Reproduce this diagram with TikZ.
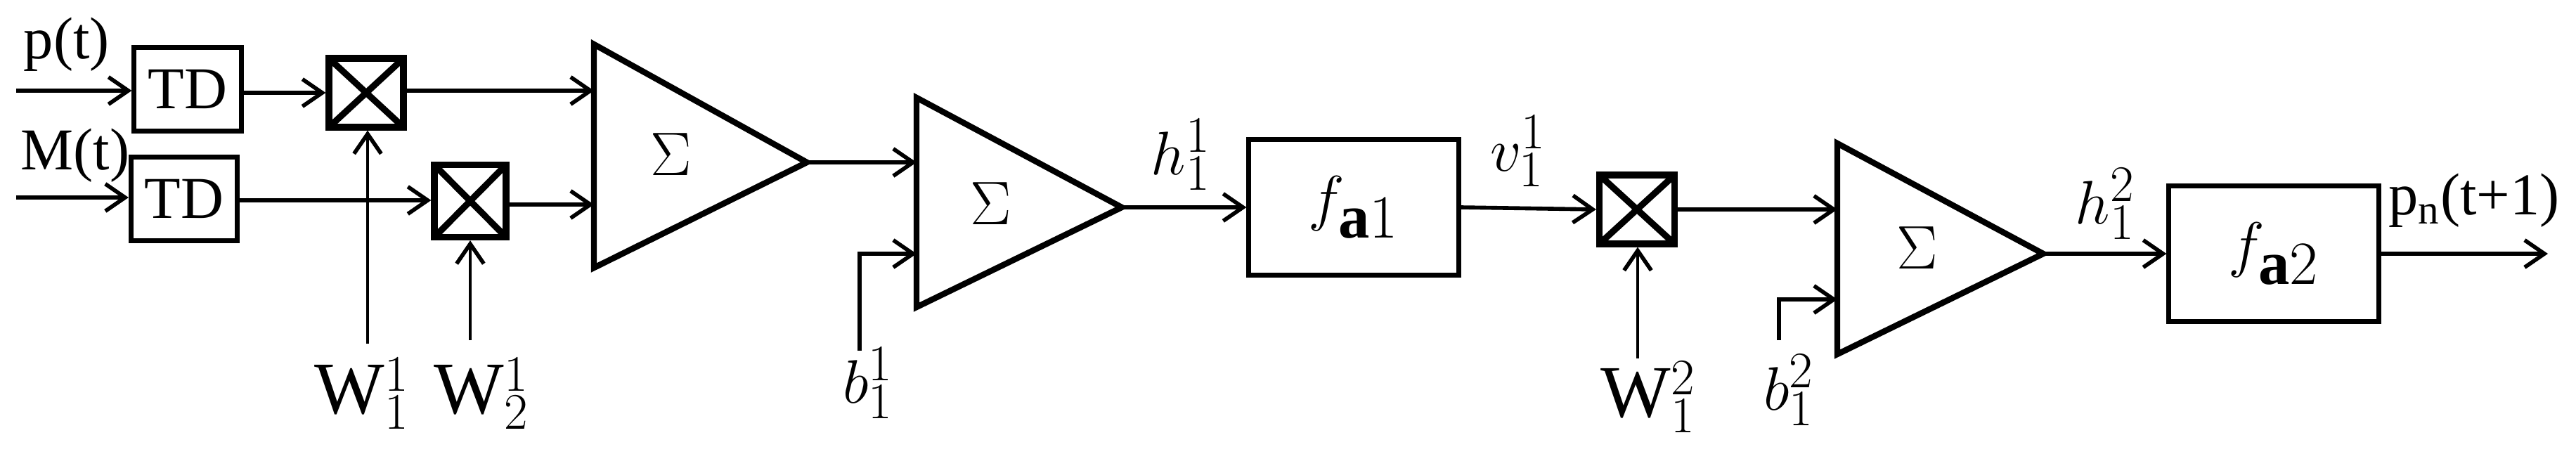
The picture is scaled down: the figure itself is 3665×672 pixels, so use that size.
\documentclass[tikz,border=0pt]{standalone}
\usepackage{fontspec}
\setmainfont{Liberation Serif}
\usetikzlibrary{arrows.meta}
\begin{document}
\begin{tikzpicture}[x=0.01cm,y=-0.01cm,line width=1.6pt,
  arr/.style={-{Straight Barb[length=8pt,width=11pt,line width=1.6pt]}},
  blk/.style={draw,line width=2pt,inner sep=0pt},
  lbl/.style={inner sep=0pt,font=\fontsize{24}{28}\selectfont},
  big/.style={inner sep=0pt,font=\fontsize{30}{30}\selectfont},
  sig/.style={inner sep=0pt,font=\fontsize{40}{40}\selectfont},
  mult/.style={draw,line width=2.6pt,inner sep=0pt,path picture={\draw[line width=2.6pt](path picture bounding box.south west)--(path picture bounding box.north east)(path picture bounding box.north west)--(path picture bounding box.south east);}}]
\useasboundingbox (0,0) rectangle (3665,672);
% blocks
\node[blk,minimum width=1.52cm,minimum height=1.18cm,lbl] (td1) at (267,127) {TD};
\node[blk,minimum width=1.51cm,minimum height=1.18cm,lbl] (td2) at (262,283) {TD};
\node[mult,minimum width=1.06cm,minimum height=0.98cm] (m1) at (521,132) {};
\node[mult,minimum width=1.02cm,minimum height=1.03cm] (m2) at (669,286) {};
\node[mult,minimum width=1.07cm,minimum height=0.98cm] (m3) at (2329,298) {};
\node[blk,minimum width=2.98cm,minimum height=1.93cm] (f1) at (1926,295) {\fontsize{36}{40}\selectfont$f_{\mathbf{a}1}$};
\node[blk,minimum width=2.98cm,minimum height=1.93cm] (f2) at (3235,361) {\fontsize{36}{40}\selectfont$f_{\mathbf{a}2}$};
% summers
\draw[line width=2.4pt] (845,63) coordinate (s1t) -- (1148,231) coordinate (s1o) -- (845,381) coordinate (s1b) -- cycle;
\draw[line width=2.4pt] (1304,139) coordinate (s2t) -- (1596,295) coordinate (s2o) -- (1304,437) coordinate (s2b) -- cycle;
\draw[line width=2.4pt] (2614,204) coordinate (s3t) -- (2907,361) coordinate (s3o) -- (2614,504) coordinate (s3b) -- cycle;
\node[sig] (sg1) at (955,220) {$\Sigma$};
\node[sig] (sg2) at (1410,290) {$\Sigma$};
\node[sig] (sg3) at (2728,353) {$\Sigma$};
% coordinates
\coordinate (pin) at (23,129);
\coordinate (min) at (23,281);
\coordinate (s1a) at (845,129);
\coordinate (s1c) at (845,291);
\coordinate (s2a) at (1304,231);
\coordinate (s2c) at (1304,361);
\coordinate (b1s) at (1223,499);
\coordinate (s3a) at (2614,298);
\coordinate (s3c) at (2614,426);
\coordinate (b2s) at (2531,484);
\coordinate (w1s) at (523,489);
\coordinate (w2s) at (669,484);
\coordinate (w3s) at (2330,510);
\coordinate (out) at (3625,361);
% connectors
\draw[arr] (pin) -- (td1.west |- pin);
\draw[arr] (min) -- (td2.west |- min);
\draw[arr] (td1.east |- m1) -- (m1.west);
\draw[arr] (td2.east |- 0,285) -- (m2.west |- 0,285);
\draw[arr] (m1.east |- s1a) -- (s1a);
\draw[arr] (m2.east |- s1c) -- (s1c);
\draw[arr,line width=1.2pt] (w1s) -- (m1.south -| w1s);
\draw[arr,line width=1.2pt] (w2s) -- (m2.south);
\draw[arr] (s1o) -- (s2a);
\draw[arr] (b1s) |- (s2c);
\draw[arr] (s2o) -- (f1.west);
\draw[arr] (f1.east) -- (m3.west);
\draw[arr] (m3.east) -- (s3a);
\draw[arr] (b2s) |- (s3c);
\draw[arr,line width=1.2pt] (w3s) -- (m3.south -| w3s);
\draw[arr] (s3o) -- (f2.west);
\draw[arr] (f2.east) -- (out);
% labels
\node[lbl,anchor=north west] (lp) at (31,22) {p(t)};
\node[lbl,anchor=north west] (lm) at (27,180) {M(t)};
\node[big] (lw1) at (515,560) {W$_1^1$};
\node[big] (lw2) at (685,560) {W$_2^1$};
\node[big] (lw3) at (2345,565) {W$_1^2$};
\node[big] (lb1) at (1235,545) {$b_1^1$};
\node[big] (lb2) at (2545,555) {$b_1^2$};
\node[big] (lh1) at (1680,220) {$h_1^1$};
\node[big] (lv1) at (2160,215) {$v_1^1$};
\node[big] (lh2) at (2995,290) {$h_1^2$};
\node[lbl] (lpn) at (3520,285) {p$_{\mathrm{n}}$(t+1)};
\end{tikzpicture}
\end{document}
